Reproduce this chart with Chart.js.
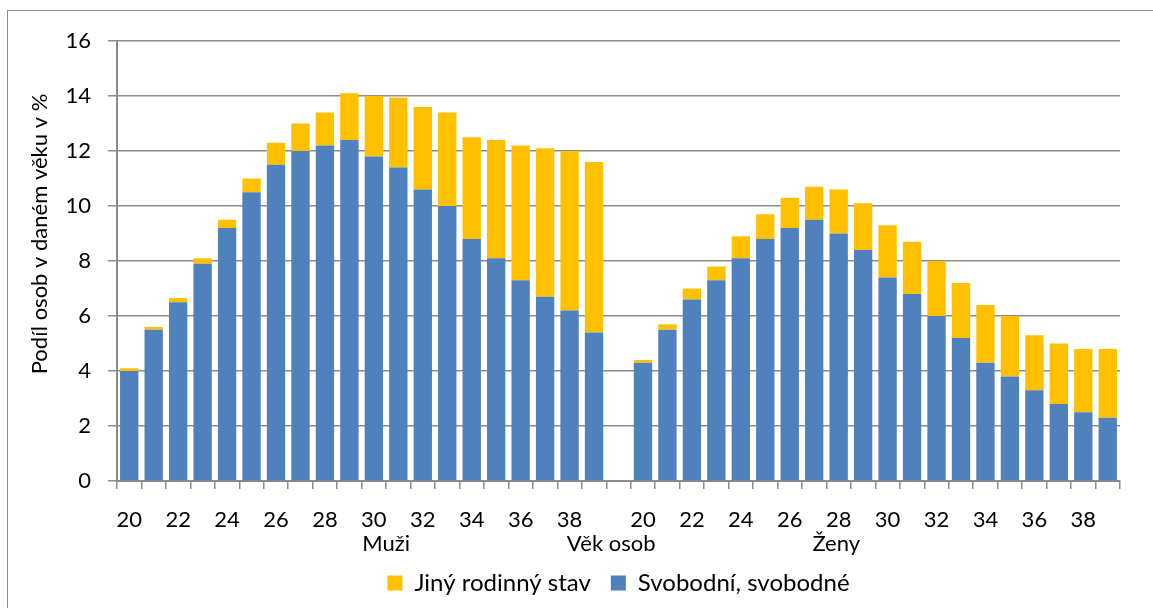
<!DOCTYPE html>
<html>
<head>
<meta charset="utf-8">
<script src="https://cdn.jsdelivr.net/npm/chart.js@4.4.0/dist/chart.umd.min.js"></script>
<style>
    html, body { margin: 0; padding: 0; background: #fff; }
    #wrap { position: relative; width: 1153px; height: 608px; }
</style>
</head>
<body>
<div id="wrap"><canvas id="barChart"></canvas></div>
<script>
Chart.defaults.font.family = "Lato";
Chart.defaults.font.size = 22;
Chart.defaults.color = "#000";

// ages on the category axis, a blank slot between the two groups
const menAges = ["20","21","22","23","24","25","26","27","28","29","30","31","32","33","34","35","36","37","38","39"];
const womenAges = ["20","21","22","23","24","25","26","27","28","29","30","31","32","33","34","35","36","37","38","39"];
const categories = [...menAges, "", ...womenAges];

// share of people in %
const menSingle   = [4.0, 5.5, 6.5, 7.9, 9.2, 10.5, 11.5, 12.0, 12.2, 12.4, 11.8, 11.4, 10.6, 10.0, 8.8, 8.1, 7.3, 6.7, 6.2, 5.4];
const menOther    = [0.1, 0.1, 0.15, 0.2, 0.3, 0.5, 0.8, 1.0, 1.2, 1.7, 2.2, 2.55, 3.0, 3.4, 3.7, 4.3, 4.9, 5.4, 5.8, 6.2];
const womenSingle = [4.3, 5.5, 6.6, 7.3, 8.1, 8.8, 9.2, 9.5, 9.0, 8.4, 7.4, 6.8, 6.0, 5.2, 4.3, 3.8, 3.3, 2.8, 2.5, 2.3];
const womenOther  = [0.1, 0.2, 0.4, 0.5, 0.8, 0.9, 1.1, 1.2, 1.6, 1.7, 1.9, 1.9, 2.0, 2.0, 2.1, 2.2, 2.0, 2.2, 2.3, 2.5];

const seriesNames = ["Svobodní, svobodné", "Jiný rodinný stav"];
const groupNames = ["Muži", "Věk osob", "Ženy"];
const yTitle = "Podíl osob v daném věku v %";

const gridColor = "#8c8c8c";

const extraText = {
    id: "extraText",
    beforeDraw(chart){
        const ctx = chart.ctx;
        ctx.save();
        ctx.strokeStyle = "#8c8c8c";
        ctx.lineWidth = 1;
        ctx.strokeRect(7.5, 10.5, chart.width, chart.height);
        ctx.restore();
    },
    afterDraw(chart){
        const ctx = chart.ctx;
        const x = chart.scales.x;
        const area = chart.chartArea;
        ctx.save();
        ctx.fillStyle = "#000";
        ctx.font = "22px Lato";
        ctx.textAlign = "center";
        ctx.textBaseline = "middle";
        // second row of the category axis
        const at = [10.5, 19.7, 28.9];
        groupNames.forEach((name, i) => {
            ctx.fillText(name, x.getPixelForValue(at[i]), area.bottom + 63);
        });
        // y axis title
        ctx.translate(40, (area.top + area.bottom) / 2 - 27);
        ctx.rotate(-Math.PI / 2);
        ctx.fillText(yTitle, 0, 0);
        ctx.restore();
    }
};

new Chart(document.getElementById("barChart"), {
    type: "bar",
    data: {
        labels: categories,
        datasets: [
            {
                label: seriesNames[0],
                data: [...menSingle, null, ...womenSingle],
                backgroundColor: "#4f81bd",
                categoryPercentage: 1,
                barPercentage: 0.75,
            },
            {
                label: seriesNames[1],
                data: [...menOther, null, ...womenOther],
                backgroundColor: "#ffc000",
                categoryPercentage: 1,
                barPercentage: 0.75,
            }
        ]
    },
    plugins: [extraText],
    options: {
        responsive: true,
        maintainAspectRatio: false,
        animation: false,
        layout: {
            padding: {left: 0, top: 41, right: 33, bottom: 3}
        },
        scales: {
            x: {
                stacked: true,
                afterFit: scale => { scale.height = 70; },
                grid: {
                    offset: true,
                    drawOnChartArea: false,
                    drawTicks: true,
                    tickLength: 8,
                    color: gridColor,
                    lineWidth: 1.5
                },
                border: {color: gridColor, width: 2},
                ticks: {
                    autoSkip: false,
                    maxRotation: 0,
                    padding: 18,
                    callback: function(value){
                        const lab = this.getLabelForValue(value);
                        return lab !== "" && Number(lab) % 2 === 0 ? lab : "";
                    }
                }
            },
            y: {
                stacked: true,
                min: 0,
                max: 16,
                afterFit: scale => { scale.width = 117; },
                grid: {
                    color: gridColor,
                    lineWidth: 1.5,
                    tickLength: 9
                },
                border: {color: gridColor, width: 2},
                ticks: {
                    stepSize: 2,
                    padding: 17
                }
            }
        },
        plugins: {
            legend: {
                position: "bottom",
                fullSize: false,
                reverse: true,
                labels: {
                    boxWidth: 15,
                    boxHeight: 15,
                    padding: 20,
                    font: {size: 24}
                }
            },
            tooltip: {enabled: false}
        }
    }
});
</script>
</body>
</html>
